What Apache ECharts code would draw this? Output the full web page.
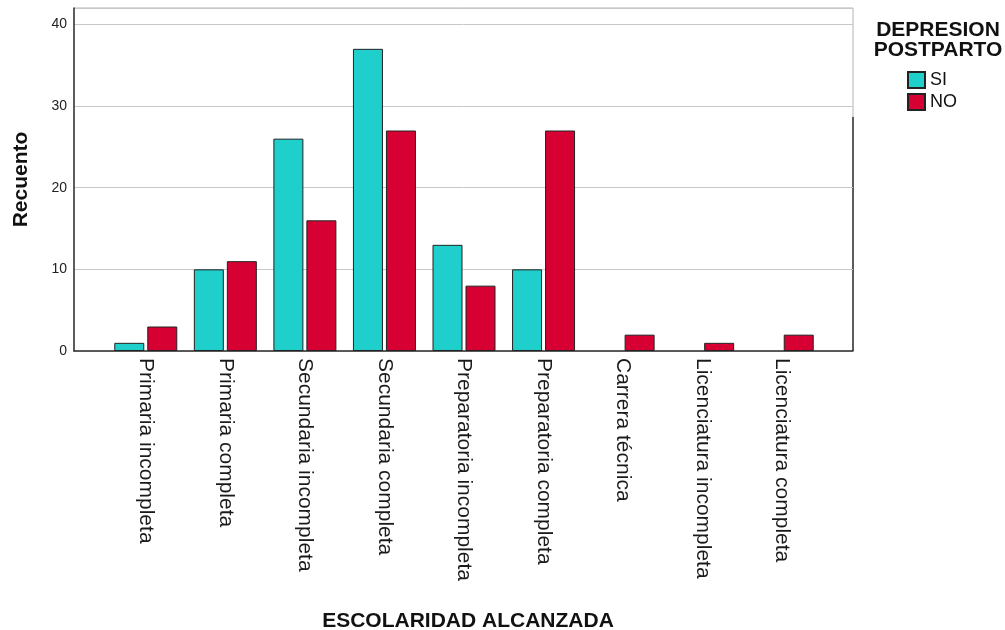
<!DOCTYPE html>
<html>
<head>
<meta charset="utf-8">
<script src="https://cdn.jsdelivr.net/npm/echarts@6/dist/echarts.min.js"></script>
<style>
  html, body { margin: 0; padding: 0; background: #fff; }
  #main { width: 1005px; height: 630px; }
</style>
</head>
<body>
<div id="main"></div>
<script>
var categories = ['Primaria incompleta', 'Primaria completa', 'Secundaria incompleta', 'Secundaria completa',
  'Preparatoria incompleta', 'Preparatoria completa', 'Carrera técnica', 'Licenciatura incompleta', 'Licenciatura completa'];
var siValues = [1, 10, 26, 37, 13, 10, 0, 0, 0];
var noValues = [3, 11, 16, 27, 8, 27, 2, 1, 2];
var yTicks = [0, 10, 20, 30, 40];

var font = 'Liberation Sans, Arial, sans-serif';
var chartDom = document.getElementById('main');
var myChart = echarts.init(chartDom);

// empty counts are not drawn as bars
function hideZero(v) { return v === 0 ? null : v; }

var option = {
  animation: false,
  textStyle: { fontFamily: font },
  title: [
    {
      text: 'DEPRESION\nPOSTPARTO',
      left: 933, top: 15, textAlign: 'center',
      textStyle: { fontSize: 21, fontWeight: 'bold', color: '#111', lineHeight: 20, fontFamily: font }
    },
    {
      text: 'ESCOLARIDAD ALCANZADA',
      left: 463, top: 606, textAlign: 'center',
      textStyle: { fontSize: 21, fontWeight: 'bold', color: '#111', fontFamily: font }
    }
  ],
  legend: {
    orient: 'vertical',
    left: 907, top: 71, padding: 0,
    itemWidth: 17, itemHeight: 16, itemGap: 4,
    icon: 'rect',
    textStyle: { fontSize: 18, color: '#111', padding: [0, 0, 0, 0], fontFamily: font },
    data: ['SI', 'NO']
  },
  grid: [
    { left: 74, top: 8, width: 779, height: 343, outerBoundsMode: 'none', containLabel: false,
      show: true, borderColor: '#b4b4b4', borderWidth: 1, backgroundColor: 'transparent' },
    { left: 106, top: 8, width: 716, height: 343, outerBoundsMode: 'none', containLabel: false }
  ],
  xAxis: [
    {
      gridIndex: 0, type: 'value', min: 0, max: 1,
      axisLine: { show: true, lineStyle: { color: '#333', width: 1.5 } },
      axisTick: { show: false }, axisLabel: { show: false }, splitLine: { show: false }
    },
    {
      gridIndex: 1, type: 'category', data: categories,
      axisLine: { show: false }, axisTick: { show: false },
      axisLabel: { rotate: -90, fontSize: 21, color: '#1a1a1a', margin: 7, interval: 0, fontFamily: font }
    }
  ],
  yAxis: [
    {
      gridIndex: 0, type: 'value', min: 0, max: 42, interval: 10,
      name: 'Recuento', nameLocation: 'middle', nameGap: 42, nameRotate: 90,
      nameTextStyle: { fontSize: 21, fontWeight: 'bold', color: '#111', fontFamily: font },
      axisLine: { show: true, lineStyle: { color: '#333', width: 1.5 } },
      axisTick: { show: false },
      axisLabel: {
        fontSize: 14, color: '#222', margin: 7, fontFamily: font,
        formatter: function (v) { return yTicks.indexOf(v) >= 0 ? String(v) : ''; }
      },
      splitLine: { show: true, lineStyle: { color: '#c8c8c8', width: 1 } }
    },
    {
      gridIndex: 1, type: 'value', min: 0, max: 42, show: false, splitLine: { show: false }
    }
  ],
  series: [
    {
      name: 'SI', type: 'bar', xAxisIndex: 1, yAxisIndex: 1,
      data: siValues.map(hideZero), barWidth: 30, barGap: '10%',
      itemStyle: { color: '#1ecfcc', borderColor: '#222', borderWidth: 1 }
    },
    {
      name: 'NO', type: 'bar', xAxisIndex: 1, yAxisIndex: 1,
      data: noValues.map(hideZero), barWidth: 30, barGap: '10%',
      itemStyle: { color: '#d60032', borderColor: '#222', borderWidth: 1 }
    }
  ],
  graphic: [
    { type: 'line', shape: { x1: 853, y1: 117, x2: 853, y2: 351 }, style: { stroke: '#333', lineWidth: 1.5 } }
  ]
};

myChart.setOption(option);
</script>
</body>
</html>
